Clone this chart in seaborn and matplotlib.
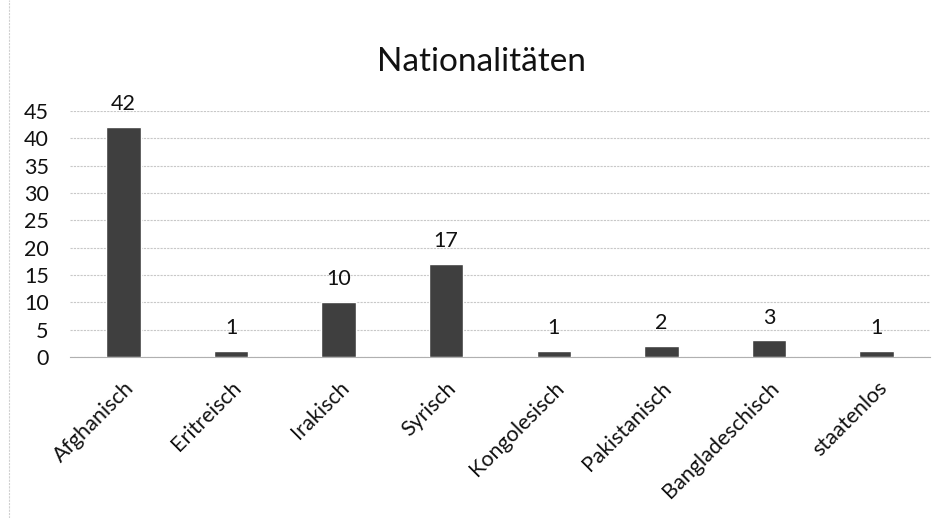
import numpy as np
import pandas as pd
import matplotlib
matplotlib.use('Agg')
import matplotlib.pyplot as plt
import seaborn as sns

categories = ['Afghanisch', 'Eritreisch', 'Irakisch', 'Syrisch', 'Kongolesisch',
              'Pakistanisch', 'Bangladeschisch', 'staatenlos']
counts = [42, 1, 10, 17, 1, 2, 3, 1]
yticks = [0, 5, 10, 15, 20, 25, 30, 35, 40, 45]

df = pd.DataFrame({'Nationalitaet': categories, 'Anzahl': counts})

sns.set_style('white')
plt.rcParams['font.family'] = ['Lato', 'DejaVu Sans']

fig = plt.figure(figsize=(9.47, 5.18), dpi=100)
ax = fig.add_axes([0.0735, 0.311, 0.909, 0.475])

sns.barplot(data=df, x='Nationalitaet', y='Anzahl', color='#3f3f3f',
            width=0.32, ax=ax, zorder=3)

ax.set_ylim(0, 45)
ax.set_yticks(yticks)
ax.yaxis.grid(True, color='#c8c8c8', linestyle=(0, (2, 1)), linewidth=0.8, zorder=0)
ax.set_axisbelow(True)
for s in ['top', 'right', 'left']:
    ax.spines[s].set_visible(False)
ax.spines['bottom'].set_color('#b0b0b0')
ax.spines['bottom'].set_linewidth(0.8)
ax.tick_params(axis='y', length=0, labelsize=15.5, colors='#111111', pad=15)
ax.tick_params(axis='x', length=0, labelsize=15.5, colors='#111111', pad=15)
plt.setp(ax.get_xticklabels(), rotation=45, ha='right', rotation_mode='anchor')
ax.set_xlabel('')
ax.set_ylabel('')

for i, v in enumerate(counts):
    ax.text(i, v + 3.1, str(v), ha='center', va='baseline', fontsize=15.5, color='#111111')

fig.text(0.508, 0.88, 'Nationalitäten', ha='center', va='center', fontsize=24, color='#111111')

fig.add_artist(plt.Line2D([0.009, 0.009], [0.0, 1.0], color='#d0d0d0', linewidth=0.8,
                          linestyle=(0, (2, 1))))

fig.savefig('out.png', dpi=100)
